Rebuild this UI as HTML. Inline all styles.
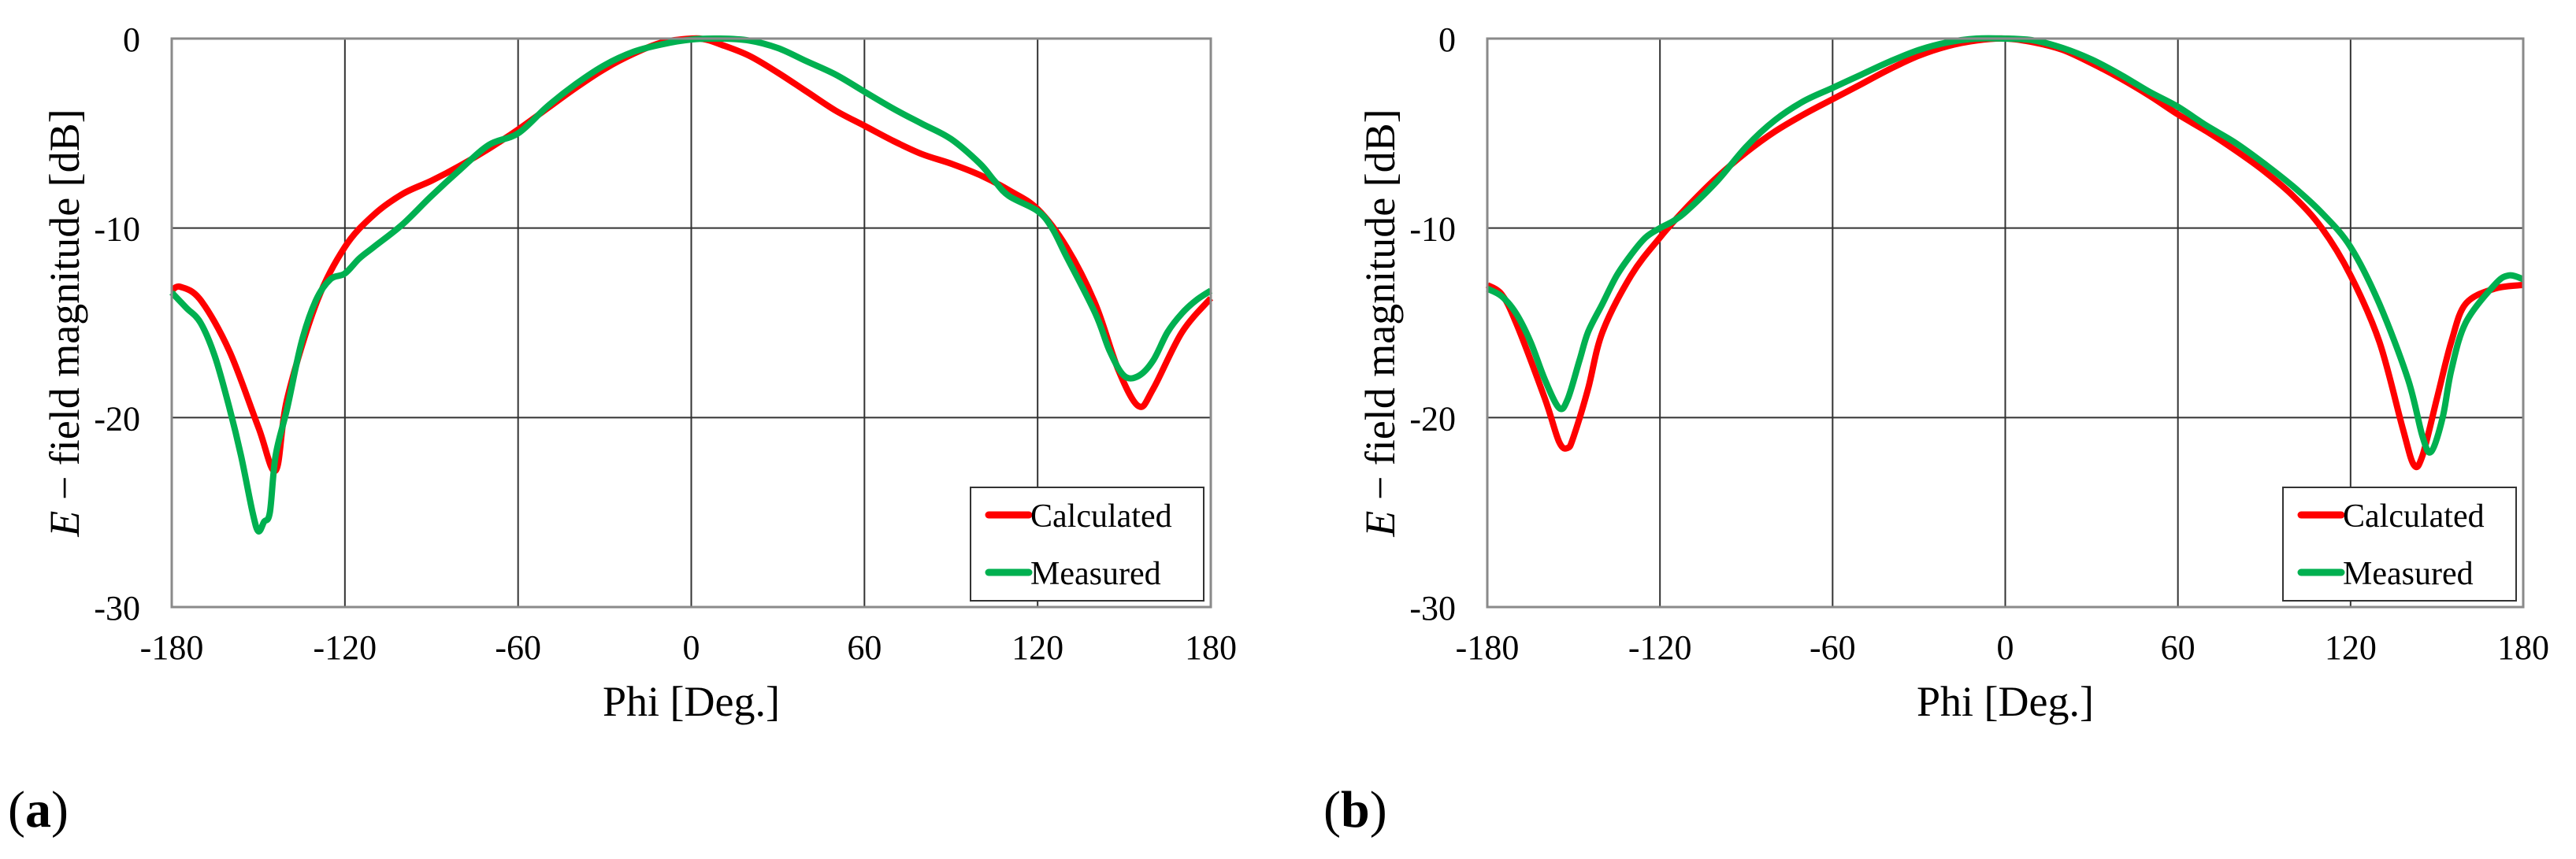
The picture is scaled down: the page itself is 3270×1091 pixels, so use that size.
<!DOCTYPE html>
<html><head><meta charset="utf-8"><style>
html,body{margin:0;padding:0;background:#fff;}
svg{display:block;font-family:"Liberation Serif",serif;}
</style></head><body>
<svg id="fig" width="3270" height="1091" viewBox="0 0 3270 1091"></svg>
<script>
const xTicks=[-180,-120,-60,0,60,120,180];
const yTicks=[0,-10,-20,-30];
const phiA_calc=[-180,-177,-170,-160,-150,-144,-140,-130,-120,-110,-100,-90,-80,-70,-60,-50,-40,-30,-20,-10,0,5,10,20,30,40,50,60,70,80,90,100,110,120,130,140,148,155,160,170,180];
const valA_calc=[-13.3,-13.1,-13.8,-16.5,-20.5,-22.8,-19,-14,-11,-9.3,-8.2,-7.5,-6.7,-5.8,-4.8,-3.7,-2.6,-1.6,-0.8,-0.2,0,-0.05,-0.3,-0.9,-1.8,-2.8,-3.8,-4.6,-5.4,-6.1,-6.6,-7.2,-8,-9,-11,-14,-17.5,-19.4,-18.5,-15.5,-13.7];
const phiA_meas=[-180,-175,-170,-165,-160,-156,-152,-150,-148,-146,-144,-140,-135,-130,-125,-120,-115,-110,-100,-90,-80,-70,-60,-50,-40,-30,-20,-10,0,10,20,30,40,50,60,70,80,90,100,105,110,120,125,130,140,145,150,155,160,165,170,175,180];
const valA_meas=[-13.4,-14.2,-15,-16.8,-19.5,-22,-25,-26,-25.5,-25,-22,-19.5,-16,-13.8,-12.7,-12.4,-11.6,-11,-9.8,-8.3,-6.9,-5.6,-5,-3.6,-2.4,-1.4,-0.7,-0.3,-0.05,0,-0.1,-0.5,-1.2,-1.9,-2.8,-3.7,-4.5,-5.3,-6.6,-7.5,-8.3,-9.1,-10,-11.5,-14.5,-16.5,-17.8,-17.8,-17,-15.5,-14.5,-13.8,-13.3];
const phiB_calc=[-180,-175,-170,-160,-155,-152,-150,-145,-140,-130,-120,-110,-100,-90,-80,-70,-60,-50,-40,-30,-20,-10,0,10,20,30,40,50,60,70,80,90,100,110,120,130,138,142,145,150,155,160,170,180];
const valB_calc=[-13,-13.5,-15,-19,-21.3,-21.6,-21,-18.5,-15.5,-12.5,-10.5,-8.8,-7.3,-6,-4.9,-4,-3.2,-2.4,-1.6,-0.9,-0.4,-0.1,0,-0.2,-0.6,-1.3,-2.1,-3,-4,-4.9,-5.9,-7,-8.3,-10,-12.5,-16,-20.5,-22.5,-22,-19,-16,-14,-13.2,-13];
const phiB_meas=[-180,-175,-170,-165,-160,-155,-152,-148,-145,-140,-135,-130,-125,-120,-115,-110,-100,-90,-80,-70,-60,-50,-40,-30,-20,-10,0,10,20,30,40,50,60,70,80,90,100,110,120,130,140,145,148,152,155,160,170,175,180];
const valB_meas=[-13.2,-13.6,-14.5,-16,-18,-19.5,-19,-17,-15.5,-14,-12.5,-11.4,-10.5,-10,-9.6,-9,-7.5,-5.7,-4.3,-3.3,-2.6,-1.9,-1.2,-0.6,-0.2,0,0,-0.1,-0.5,-1.1,-1.9,-2.8,-3.6,-4.6,-5.5,-6.6,-7.8,-9.2,-11,-14,-18,-21,-21.8,-20,-17.5,-15,-13,-12.5,-12.7];

const NS='http://www.w3.org/2000/svg';
const svg=document.getElementById('fig');
function mk(tag,attrs,parent,text){const e=document.createElementNS(NS,tag);for(const k in attrs)e.setAttribute(k,attrs[k]);if(text!==undefined)e.textContent=text;(parent||svg).appendChild(e);return e;}
function smooth(pts){let d='M'+pts[0][0].toFixed(1)+','+pts[0][1].toFixed(1);for(let i=0;i<pts.length-1;i++){const p0=pts[i-1]||pts[i],p1=pts[i],p2=pts[i+1],p3=pts[i+2]||p2;const c1=[p1[0]+(p2[0]-p0[0])/6,p1[1]+(p2[1]-p0[1])/6],c2=[p2[0]-(p3[0]-p1[0])/6,p2[1]-(p3[1]-p1[1])/6];d+='C'+c1[0].toFixed(1)+','+c1[1].toFixed(1)+' '+c2[0].toFixed(1)+','+c2[1].toFixed(1)+' '+p2[0].toFixed(1)+','+p2[1].toFixed(1);}return d;}

function chart(id,L,R,T,B,calcX,calcY,measX,measY,lab,labX){
  const g=mk('g',{});
  
  
  const xs=v=>L+(v+180)/360*(R-L), ys=v=>T+(-v)/30*(B-T);
  xTicks.forEach(t=>{if(t>-180&&t<180){const l=mk('line',{x1:xs(t),x2:xs(t),y1:T,y2:B,stroke:'#333','stroke-width':2},g);}
    const tx=mk('text',{x:xs(t),y:B+66,'font-size':44,'text-anchor':'middle',fill:'#000'},g,String(t));});
  yTicks.forEach(t=>{if(t<0&&t>-30){const l=mk('line',{x1:L,x2:R,y1:ys(t),y2:ys(t),stroke:'#333','stroke-width':2},g);}
    const tx=mk('text',{x:L-40,y:ys(t)+16,'font-size':44,'text-anchor':'end',fill:'#000'},g,String(t));});
  const cp=mk('path',{d:smooth(calcX.map((v,i)=>[xs(v),ys(calcY[i])])),fill:'none',stroke:'#ff0000','stroke-width':8,'stroke-linejoin':'round'},g);
  
  const mp=mk('path',{d:smooth(measX.map((v,i)=>[xs(v),ys(measY[i])])),fill:'none',stroke:'#00b050','stroke-width':8,'stroke-linejoin':'round'},g);
  
  const fr=mk('rect',{x:L,y:T,width:R-L,height:B-T,fill:'none',stroke:'#8a8a8a','stroke-width':3},g);
  
  const lg=mk('g',{},g);
  const lx=R-305, ly=B-152;
  mk('rect',{x:lx,y:ly,width:296,height:144,fill:'#fff',stroke:'#333','stroke-width':2},lg);
  mk('line',{x1:lx+23,x2:lx+74,y1:ly+35,y2:ly+35,stroke:'#ff0000','stroke-width':9,'stroke-linecap':'round'},lg);
  mk('text',{x:lx+76,y:ly+50,'font-size':42,fill:'#000'},lg,'Calculated');
  mk('line',{x1:lx+23,x2:lx+74,y1:ly+108,y2:ly+108,stroke:'#00b050','stroke-width':9,'stroke-linecap':'round'},lg);
  mk('text',{x:lx+76,y:ly+123,'font-size':42,fill:'#000'},lg,'Measured');
  const xt=mk('text',{x:(L+R)/2,y:B+138,'font-size':54,'text-anchor':'middle',fill:'#000'},g,'Phi [Deg.]');
  
  const yt=mk('text',{x:0,y:0,'font-size':54,'text-anchor':'middle',fill:'#000',transform:'translate('+(L-118)+','+((T+B)/2)+') rotate(-90)'},g);
  
  mk('tspan',{'font-style':'italic'},yt,'E');
  mk('tspan',{},yt,' \u2212 field magnitude [dB]');
  const pl=mk('text',{x:labX,y:1050,'font-size':66,fill:'#000'},g);
  
  mk('tspan',{},pl,'(');mk('tspan',{'font-weight':'bold'},pl,lab);mk('tspan',{},pl,')');
}
chart('chart-a',218,1537,49,771,phiA_calc,valA_calc,phiA_meas,valA_meas,'a',10);
chart('chart-b',1888,3203,49,771,phiB_calc,valB_calc,phiB_meas,valB_meas,'b',1680);
</script>
</body></html>
